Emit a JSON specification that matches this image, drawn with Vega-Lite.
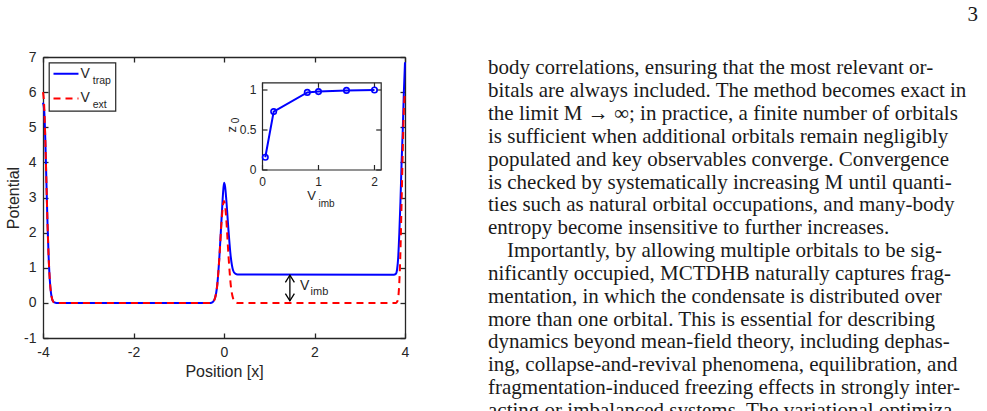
{
  "$schema": "https://vega.github.io/schema/vega-lite/v6.json",
  "background": "white",
  "padding": {"left": 5, "top": 3, "right": 5, "bottom": 0},
  "bounds": "flush",
  "spacing": 83,
  "config": {
    "view": {"stroke": null},
    "font": "Liberation Sans",
    "axis": {
      "domainColor": "#262626", "domainWidth": 1.3,
      "tickColor": "#262626", "tickWidth": 1.3, "tickSize": -5,
      "labelPadding": 12, "labelFont": "Liberation Sans", "labelFontSize": 14, "labelColor": "#262626",
      "labelFlush": false, "labelOverlap": false,
      "titleFont": "Liberation Sans", "titleFontSize": 16, "titleFontWeight": "normal", "titleColor": "#262626",
      "grid": false
    },
    "axisLeft": {"titlePadding": 2},
    "axisBottom": {"titlePadding": 4}
  },
  "datasets": {
    "trap": [
      {"x": -4.0, "v": 5.7}, {"x": -3.975, "v": 5.5}, {"x": -3.95, "v": 4.7}, {"x": -3.925, "v": 3.46},
      {"x": -3.9, "v": 2.25}, {"x": -3.875, "v": 1.3}, {"x": -3.85, "v": 0.66}, {"x": -3.825, "v": 0.3},
      {"x": -3.8, "v": 0.12}, {"x": -3.775, "v": 0.04}, {"x": -3.75, "v": 0.013}, {"x": -3.7, "v": 0},
      {"x": -0.3, "v": 0}, {"x": -0.25, "v": 0.02}, {"x": -0.2, "v": 0.13}, {"x": -0.15, "v": 0.5},
      {"x": -0.1, "v": 1.35}, {"x": -0.05, "v": 2.49}, {"x": -0.025, "v": 3.05}, {"x": 0.0, "v": 3.42},
      {"x": 0.025, "v": 3.3}, {"x": 0.05, "v": 2.95}, {"x": 0.1, "v": 2.05}, {"x": 0.15, "v": 1.3},
      {"x": 0.2, "v": 0.93}, {"x": 0.25, "v": 0.83}, {"x": 0.3, "v": 0.81}, {"x": 3.75, "v": 0.8},
      {"x": 3.8, "v": 0.83}, {"x": 3.825, "v": 0.95}, {"x": 3.85, "v": 1.3}, {"x": 3.875, "v": 2.0},
      {"x": 3.9, "v": 2.9}, {"x": 3.925, "v": 4.0}, {"x": 3.95, "v": 4.9}, {"x": 3.975, "v": 6.0},
      {"x": 4.0, "v": 6.85}
    ],
    "ext": [
      {"x": -4.0, "v": 6.0}, {"x": -3.975, "v": 5.64}, {"x": -3.95, "v": 4.7}, {"x": -3.925, "v": 3.46},
      {"x": -3.9, "v": 2.25}, {"x": -3.875, "v": 1.3}, {"x": -3.85, "v": 0.66}, {"x": -3.825, "v": 0.3},
      {"x": -3.8, "v": 0.12}, {"x": -3.775, "v": 0.04}, {"x": -3.75, "v": 0.013}, {"x": -3.7, "v": 0},
      {"x": -0.3, "v": 0}, {"x": -0.25, "v": 0.02}, {"x": -0.2, "v": 0.13}, {"x": -0.15, "v": 0.5},
      {"x": -0.1, "v": 1.33}, {"x": -0.05, "v": 2.39}, {"x": -0.025, "v": 2.76}, {"x": 0.0, "v": 2.9},
      {"x": 0.025, "v": 2.76}, {"x": 0.05, "v": 2.39}, {"x": 0.1, "v": 1.33}, {"x": 0.15, "v": 0.5},
      {"x": 0.2, "v": 0.13}, {"x": 0.25, "v": 0.02}, {"x": 0.3, "v": 0}, {"x": 3.8, "v": 0},
      {"x": 3.825, "v": 0.03}, {"x": 3.85, "v": 0.15}, {"x": 3.875, "v": 0.6}, {"x": 3.9, "v": 1.5},
      {"x": 3.925, "v": 2.9}, {"x": 3.95, "v": 4.3}, {"x": 3.975, "v": 5.5}, {"x": 4.0, "v": 6.0}
    ],
    "legend": [
      {"key": "trap", "y": 6.52, "label": "V", "sub": "trap"},
      {"key": "ext", "y": 5.82, "label": "V", "sub": "ext"}
    ],
    "imb": [{"x": 1.456, "lo": 0.06, "hi": 0.79, "label": "V", "sub": "imb"}],
    "inset": [
      {"vimb": 0.05, "z0": 0.16}, {"vimb": 0.2, "z0": 0.73}, {"vimb": 0.8, "z0": 0.97},
      {"vimb": 1.0, "z0": 0.98}, {"vimb": 1.5, "z0": 0.995}, {"vimb": 2.0, "z0": 1.0}
    ],
    "ixt": [{"v": 0, "label": "0"}, {"v": 1, "label": "1"}, {"v": 2, "label": "2"}],
    "iyt": [{"v": 0, "label": "0"}, {"v": 0.5, "label": "0.5"}, {"v": 1, "label": "1"}],
    "insettitle": [{"xlabel": "V", "xsub": "imb", "ylabel": "z", "ysub": "0"}],
    "para": [
      {"line": 1, "text": "body correlations, ensuring that the most relevant or-"},
      {"line": 2, "text": "bitals are always included. The method becomes exact in"},
      {"line": 3, "text": "the limit M → ∞; in practice, a finite number of orbitals"},
      {"line": 4, "text": "is sufficient when additional orbitals remain negligibly"},
      {"line": 5, "text": "populated and key observables converge.  Convergence"},
      {"line": 6, "text": "is checked by systematically increasing M until quanti-"},
      {"line": 7, "text": "ties such as natural orbital occupations, and many-body"},
      {"line": 8, "text": "entropy become insensitive to further increases."},
      {"line": 9, "text": "Importantly, by allowing multiple orbitals to be sig-"},
      {"line": 10, "text": "nificantly occupied, MCTDHB naturally captures frag-"},
      {"line": 11, "text": "mentation, in which the condensate is distributed over"},
      {"line": 12, "text": "more than one orbital.  This is essential for describing"},
      {"line": 13, "text": "dynamics beyond mean-field theory, including dephas-"},
      {"line": 14, "text": "ing, collapse-and-revival phenomena, equilibration, and"},
      {"line": 15, "text": "fragmentation-induced freezing effects in strongly inter-"},
      {"line": 16, "text": "acting or imbalanced systems. The variational optimiza-"}
    ],
    "page": [{"line": -1.34, "text": "3"}]
  },
  "hconcat": [
    {
      "width": 362,
      "height": 281,
      "resolve": {
        "scale": {"x": "independent", "y": "independent", "color": "independent", "strokeDash": "independent"},
        "axis": {"x": "independent", "y": "independent"}
      },
      "layer": [
        {
          "data": {"name": "trap"},
          "mark": {"type": "line", "color": "#0000ff", "strokeWidth": 2, "interpolate": "monotone"},
          "encoding": {
            "x": {"field": "x", "type": "quantitative", "scale": {"domain": [-4, 4], "nice": false, "zero": false},
                  "axis": {"orient": "bottom", "values": [-4, -2, 0, 2, 4], "title": "Position [x]", "labelExpr": "'' + datum.value"}},
            "y": {"field": "v", "type": "quantitative", "scale": {"domain": [-1, 7], "nice": false, "zero": false},
                  "axis": {"orient": "left", "values": [-1, 0, 1, 2, 3, 4, 5, 6, 7], "title": "Potential", "labelExpr": "'' + datum.value"}}
          }
        },
        {
          "data": {"name": "ext"},
          "mark": {"type": "line", "color": "#ff0000", "strokeWidth": 2, "strokeDash": [7, 5], "interpolate": "monotone"},
          "encoding": {
            "x": {"field": "x", "type": "quantitative", "scale": {"domain": [-4, 4], "nice": false, "zero": false},
                  "axis": {"orient": "top", "values": [-4, -2, 0, 2, 4], "labels": false, "title": null}},
            "y": {"field": "v", "type": "quantitative", "scale": {"domain": [-1, 7], "nice": false, "zero": false},
                  "axis": {"orient": "right", "values": [-1, 0, 1, 2, 3, 4, 5, 6, 7], "labels": false, "title": null}}
          }
        },
        {
          "data": {"name": "legend"},
          "transform": [{"filter": "datum.key == 'trap'"}],
          "mark": {"type": "rect", "fill": "white", "stroke": "#262626", "strokeWidth": 1.2},
          "encoding": {
            "x": {"datum": -3.863, "type": "quantitative", "scale": {"domain": [-4, 4], "nice": false, "zero": false}, "axis": null},
            "x2": {"datum": -2.393},
            "y": {"datum": 6.833, "type": "quantitative", "scale": {"domain": [-1, 7], "nice": false, "zero": false}, "axis": null},
            "y2": {"datum": 5.458}
          }
        },
        {
          "data": {"name": "legend"},
          "mark": {"type": "rule", "strokeWidth": 2},
          "encoding": {
            "x": {"datum": -3.768, "type": "quantitative", "scale": {"domain": [-4, 4], "nice": false, "zero": false}, "axis": null},
            "x2": {"datum": -3.216},
            "y": {"field": "y", "type": "quantitative", "scale": {"domain": [-1, 7], "nice": false, "zero": false}, "axis": null},
            "color": {"field": "key", "type": "nominal", "scale": {"domain": ["trap", "ext"], "range": ["#0000ff", "#ff0000"]}, "legend": null},
            "strokeDash": {"field": "key", "type": "nominal", "scale": {"domain": ["trap", "ext"], "range": [[1, 0], [7, 5]]}, "legend": null}
          }
        },
        {
          "data": {"name": "legend"},
          "mark": {"type": "text", "align": "center", "baseline": "middle", "fontSize": 14, "color": "#262626"},
          "encoding": {
            "x": {"datum": -3.069, "type": "quantitative", "scale": {"domain": [-4, 4], "nice": false, "zero": false}, "axis": null},
            "y": {"field": "y", "type": "quantitative", "scale": {"domain": [-1, 7], "nice": false, "zero": false}, "axis": null},
            "text": {"field": "label"}
          }
        },
        {
          "data": {"name": "legend"},
          "mark": {"type": "text", "align": "left", "baseline": "middle", "fontSize": 10.5, "color": "#262626", "dy": 7},
          "encoding": {
            "x": {"datum": -2.9, "type": "quantitative", "scale": {"domain": [-4, 4], "nice": false, "zero": false}, "axis": null},
            "y": {"field": "y", "type": "quantitative", "scale": {"domain": [-1, 7], "nice": false, "zero": false}, "axis": null},
            "text": {"field": "sub"}
          }
        },
        {
          "data": {"name": "imb"},
          "mark": {"type": "rule", "color": "black", "strokeWidth": 1.3},
          "encoding": {
            "x": {"field": "x", "type": "quantitative", "scale": {"domain": [-4, 4], "nice": false, "zero": false}, "axis": null},
            "y": {"field": "lo", "type": "quantitative", "scale": {"domain": [-1, 7], "nice": false, "zero": false}, "axis": null},
            "y2": {"field": "hi"}
          }
        },
        {
          "data": {"name": "imb"},
          "mark": {"type": "point", "shape": "M-1,1.6L0,0L1,1.6", "filled": false, "stroke": "black", "strokeWidth": 1.3, "size": 81, "opacity": 1},
          "encoding": {
            "x": {"field": "x", "type": "quantitative", "scale": {"domain": [-4, 4], "nice": false, "zero": false}, "axis": null},
            "y": {"field": "hi", "type": "quantitative", "scale": {"domain": [-1, 7], "nice": false, "zero": false}, "axis": null}
          }
        },
        {
          "data": {"name": "imb"},
          "mark": {"type": "point", "shape": "M-1,-1.6L0,0L1,-1.6", "filled": false, "stroke": "black", "strokeWidth": 1.3, "size": 81, "opacity": 1},
          "encoding": {
            "x": {"field": "x", "type": "quantitative", "scale": {"domain": [-4, 4], "nice": false, "zero": false}, "axis": null},
            "y": {"field": "lo", "type": "quantitative", "scale": {"domain": [-1, 7], "nice": false, "zero": false}, "axis": null}
          }
        },
        {
          "data": {"name": "imb"},
          "mark": {"type": "text", "align": "center", "baseline": "middle", "fontSize": 14, "color": "#262626"},
          "encoding": {
            "x": {"datum": 1.782, "type": "quantitative", "scale": {"domain": [-4, 4], "nice": false, "zero": false}, "axis": null},
            "y": {"datum": 0.49, "type": "quantitative", "scale": {"domain": [-1, 7], "nice": false, "zero": false}, "axis": null},
            "text": {"field": "label"}
          }
        },
        {
          "data": {"name": "imb"},
          "mark": {"type": "text", "align": "center", "baseline": "middle", "fontSize": 11, "color": "#262626"},
          "encoding": {
            "x": {"datum": 2.109, "type": "quantitative", "scale": {"domain": [-4, 4], "nice": false, "zero": false}, "axis": null},
            "y": {"datum": 0.32, "type": "quantitative", "scale": {"domain": [-1, 7], "nice": false, "zero": false}, "axis": null},
            "text": {"field": "sub"}
          }
        },
        {
          "data": {"name": "inset"},
          "transform": [{"filter": "datum.vimb == 2"}],
          "mark": {"type": "rect", "fill": "white", "stroke": "#262626", "strokeWidth": 1.2},
          "encoding": {
            "x": {"datum": 0, "type": "quantitative", "scale": {"domain": [-3.92, 2.545], "nice": false, "zero": false}, "axis": null},
            "x2": {"datum": 2.12},
            "y": {"datum": 0, "type": "quantitative", "scale": {"domain": [-2.1, 1.4125], "nice": false, "zero": false}, "axis": null},
            "y2": {"datum": 1.09}
          }
        },
        {
          "data": {"name": "ixt"},
          "mark": {"type": "tick", "orient": "vertical", "size": 5, "thickness": 1.2, "color": "#262626", "yOffset": -2.5, "opacity": 1},
          "encoding": {
            "x": {"field": "v", "type": "quantitative", "scale": {"domain": [-3.92, 2.545], "nice": false, "zero": false}, "axis": null},
            "y": {"datum": 0, "type": "quantitative", "scale": {"domain": [-2.1, 1.4125], "nice": false, "zero": false}, "axis": null}
          }
        },
        {
          "data": {"name": "ixt"},
          "mark": {"type": "tick", "orient": "vertical", "size": 5, "thickness": 1.2, "color": "#262626", "yOffset": 2.5, "opacity": 1},
          "encoding": {
            "x": {"field": "v", "type": "quantitative", "scale": {"domain": [-3.92, 2.545], "nice": false, "zero": false}, "axis": null},
            "y": {"datum": 1.09, "type": "quantitative", "scale": {"domain": [-2.1, 1.4125], "nice": false, "zero": false}, "axis": null}
          }
        },
        {
          "data": {"name": "iyt"},
          "mark": {"type": "tick", "orient": "horizontal", "size": 5, "thickness": 1.2, "color": "#262626", "xOffset": 2.5, "opacity": 1},
          "encoding": {
            "x": {"datum": 0, "type": "quantitative", "scale": {"domain": [-3.92, 2.545], "nice": false, "zero": false}, "axis": null},
            "y": {"field": "v", "type": "quantitative", "scale": {"domain": [-2.1, 1.4125], "nice": false, "zero": false}, "axis": null}
          }
        },
        {
          "data": {"name": "iyt"},
          "mark": {"type": "tick", "orient": "horizontal", "size": 5, "thickness": 1.2, "color": "#262626", "xOffset": -2.5, "opacity": 1},
          "encoding": {
            "x": {"datum": 2.12, "type": "quantitative", "scale": {"domain": [-3.92, 2.545], "nice": false, "zero": false}, "axis": null},
            "y": {"field": "v", "type": "quantitative", "scale": {"domain": [-2.1, 1.4125], "nice": false, "zero": false}, "axis": null}
          }
        },
        {
          "data": {"name": "ixt"},
          "mark": {"type": "text", "align": "center", "baseline": "middle", "fontSize": 12, "color": "#262626", "dy": 12},
          "encoding": {
            "x": {"field": "v", "type": "quantitative", "scale": {"domain": [-3.92, 2.545], "nice": false, "zero": false}, "axis": null},
            "y": {"datum": 0, "type": "quantitative", "scale": {"domain": [-2.1, 1.4125], "nice": false, "zero": false}, "axis": null},
            "text": {"field": "label"}
          }
        },
        {
          "data": {"name": "iyt"},
          "mark": {"type": "text", "align": "right", "baseline": "middle", "fontSize": 12, "color": "#262626", "dx": -6},
          "encoding": {
            "x": {"datum": 0, "type": "quantitative", "scale": {"domain": [-3.92, 2.545], "nice": false, "zero": false}, "axis": null},
            "y": {"field": "v", "type": "quantitative", "scale": {"domain": [-2.1, 1.4125], "nice": false, "zero": false}, "axis": null},
            "text": {"field": "label"}
          }
        },
        {
          "data": {"name": "inset"},
          "mark": {"type": "line", "color": "#0000ff", "strokeWidth": 2,
                   "point": {"filled": false, "size": 30, "strokeWidth": 1.6, "color": "#0000ff"}},
          "encoding": {
            "x": {"field": "vimb", "type": "quantitative", "scale": {"domain": [-3.92, 2.545], "nice": false, "zero": false}, "axis": null},
            "y": {"field": "z0", "type": "quantitative", "scale": {"domain": [-2.1, 1.4125], "nice": false, "zero": false}, "axis": null}
          }
        },
        {
          "data": {"name": "insettitle"},
          "mark": {"type": "text", "align": "center", "baseline": "middle", "fontSize": 13, "color": "#262626"},
          "encoding": {
            "x": {"datum": 0.875, "type": "quantitative", "scale": {"domain": [-3.92, 2.545], "nice": false, "zero": false}, "axis": null},
            "y": {"datum": -0.325, "type": "quantitative", "scale": {"domain": [-2.1, 1.4125], "nice": false, "zero": false}, "axis": null},
            "text": {"field": "xlabel"}
          }
        },
        {
          "data": {"name": "insettitle"},
          "mark": {"type": "text", "align": "center", "baseline": "middle", "fontSize": 10, "color": "#262626"},
          "encoding": {
            "x": {"datum": 1.143, "type": "quantitative", "scale": {"domain": [-3.92, 2.545], "nice": false, "zero": false}, "axis": null},
            "y": {"datum": -0.425, "type": "quantitative", "scale": {"domain": [-2.1, 1.4125], "nice": false, "zero": false}, "axis": null},
            "text": {"field": "xsub"}
          }
        },
        {
          "data": {"name": "insettitle"},
          "mark": {"type": "text", "align": "center", "baseline": "middle", "fontSize": 13, "color": "#262626", "angle": 270},
          "encoding": {
            "x": {"datum": -0.548, "type": "quantitative", "scale": {"domain": [-3.92, 2.545], "nice": false, "zero": false}, "axis": null},
            "y": {"datum": 0.509, "type": "quantitative", "scale": {"domain": [-2.1, 1.4125], "nice": false, "zero": false}, "axis": null},
            "text": {"field": "ylabel"}
          }
        },
        {
          "data": {"name": "insettitle"},
          "mark": {"type": "text", "align": "center", "baseline": "middle", "fontSize": 10, "color": "#262626", "angle": 270},
          "encoding": {
            "x": {"datum": -0.47, "type": "quantitative", "scale": {"domain": [-3.92, 2.545], "nice": false, "zero": false}, "axis": null},
            "y": {"datum": 0.62, "type": "quantitative", "scale": {"domain": [-2.1, 1.4125], "nice": false, "zero": false}, "axis": null},
            "text": {"field": "ysub"}
          }
        }
      ]
    },
    {
      "width": 487,
      "height": 354,
      "layer": [
        {
          "data": {"name": "para"},
          "transform": [{"filter": "datum.line != 9"}],
          "mark": {"type": "text", "align": "left", "baseline": "middle", "font": "Liberation Serif", "fontSize": 21, "color": "#1a1a1a", "clip": true},
          "encoding": {
            "x": {"datum": 0, "type": "quantitative", "scale": {"domain": [0, 1], "nice": false, "zero": false}, "axis": null},
            "y": {"field": "line", "type": "quantitative", "scale": {"domain": [0.5, 16], "reverse": true, "nice": false, "zero": false}, "axis": null},
            "text": {"field": "text"}
          }
        },
        {
          "data": {"name": "para"},
          "transform": [{"filter": "datum.line == 9"}],
          "mark": {"type": "text", "align": "left", "baseline": "middle", "font": "Liberation Serif", "fontSize": 21, "color": "#1a1a1a", "dx": 19},
          "encoding": {
            "x": {"datum": 0, "type": "quantitative", "scale": {"domain": [0, 1], "nice": false, "zero": false}, "axis": null},
            "y": {"field": "line", "type": "quantitative", "scale": {"domain": [0.5, 16], "reverse": true, "nice": false, "zero": false}, "axis": null},
            "text": {"field": "text"}
          }
        },
        {
          "data": {"name": "page"},
          "mark": {"type": "text", "align": "right", "baseline": "middle", "font": "Liberation Serif", "fontSize": 21, "color": "#1a1a1a", "dx": 3},
          "encoding": {
            "x": {"datum": 1, "type": "quantitative", "scale": {"domain": [0, 1], "nice": false, "zero": false}, "axis": null},
            "y": {"field": "line", "type": "quantitative", "scale": {"domain": [0.5, 16], "reverse": true, "nice": false, "zero": false}, "axis": null},
            "text": {"field": "text"}
          }
        }
      ]
    }
  ]
}
